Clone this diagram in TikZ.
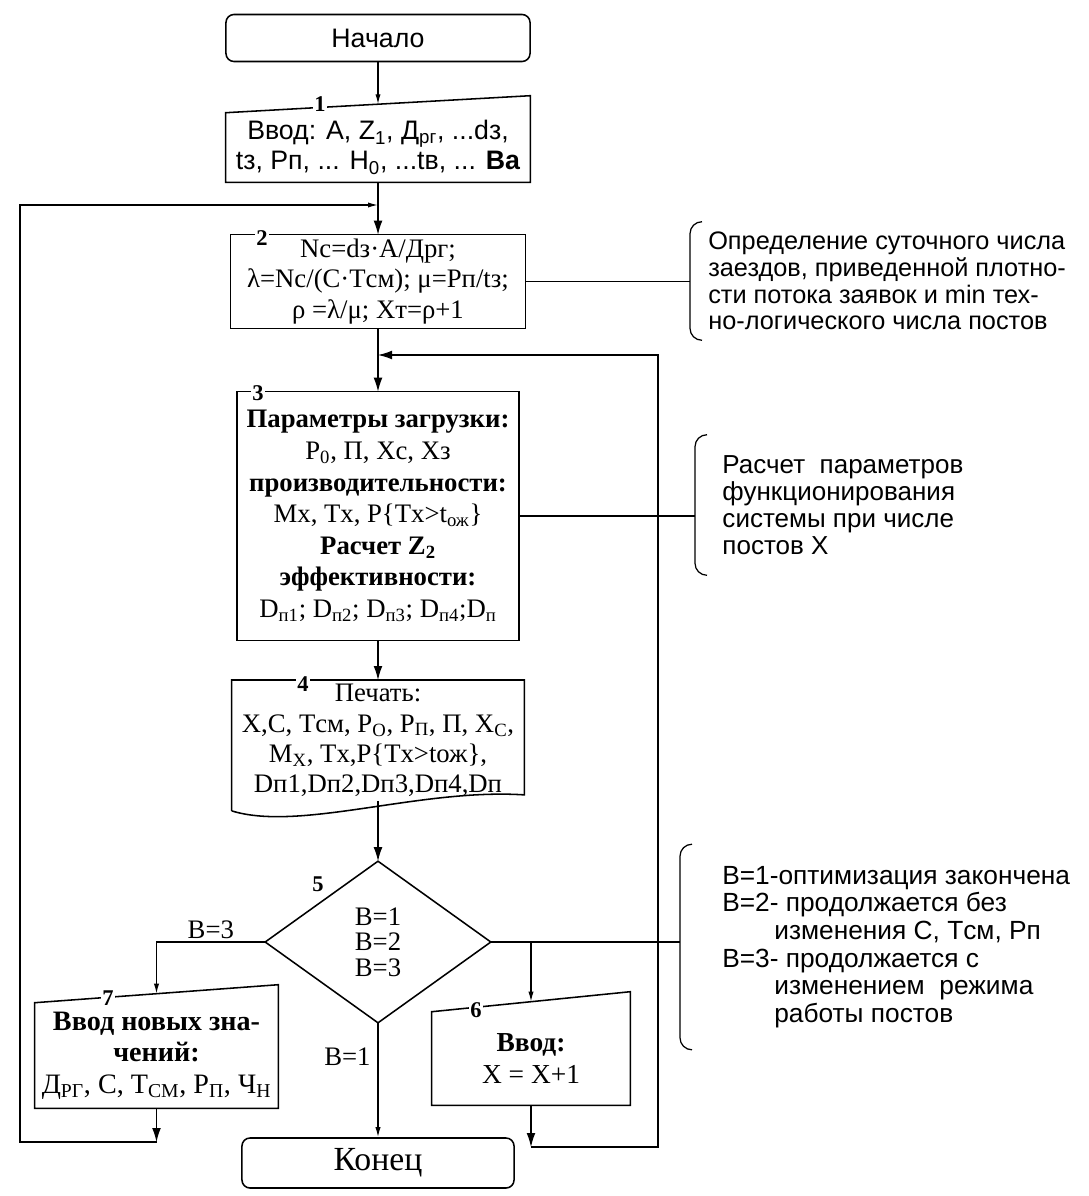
\documentclass[tikz,border=0pt]{standalone}
\usepackage{fontspec}
\setmainfont{Liberation Serif}
\setsansfont{Liberation Sans}
\usetikzlibrary{arrows.meta}

\begin{document}
\begin{tikzpicture}[x=0.025cm, y=-0.025cm]

\tikzset{box/.style = {shape=rectangle, inner sep=0pt, align=center, font=\fontsize{19}{21.5}\selectfont}}
\tikzset{term/.style = {box, draw, rounded corners=0.2cm, line width=1.1pt}}
\tikzset{num/.style = {fill=white, inner sep=1pt, font=\bfseries\fontsize{16}{16}\selectfont}}
\tikzset{note/.style = {align=left, anchor=west, inner ysep=0pt, font=\sffamily\fontsize{18}{19}\selectfont}}
\tikzset{lbl/.style = {inner sep=2pt, font=\fontsize{19}{19}\selectfont}}
\tikzset{outline/.style = {line width=1.1pt, line join=miter}}
\tikzset{edge/.style = {line width=0.9pt}}
\tikzset{arr/.style = {edge, -{Latex[length=0.35cm,width=0.22cm]}}}
\tikzset{arrs/.style = {edge, -{Latex[length=0.25cm,width=0.13cm]}}}

\useasboundingbox (0,0) rectangle (1088,1196);

%blocks
\node[term, minimum width=7.6cm, minimum height=1.175cm, font=\sffamily\fontsize{19}{21}\selectfont] (start) at (378,38) {Начало};
\node[box, minimum width=7.6cm, minimum height=1.725cm, font=\sffamily\fontsize{19}{21.5}\selectfont] (b1) at (378,147.5)
  {Ввод: A, Z\textsubscript{1}, Д\textsubscript{рг}, ...dз,\\ tз, Pп, ... H\textsubscript{0}, ...tв, ... \textbf{Ba}};
\node[box, minimum width=7.35cm, minimum height=2.325cm] (b2) at (378,281.5)
  {Nc=dз·A/Дрг;\\ λ=Nc/(C·Tсм); μ=Pп/tз;\\ ρ =λ/μ; Xт=ρ+1};
\node[box, minimum width=7.025cm, minimum height=6.2cm, font=\fontsize{19}{22.5}\selectfont] (b3) at (378,516)
  {\textbf{Параметры загрузки:}\\ P\textsubscript{0}, П, Xc, Xз\\ \textbf{производительности:}\\
   Mx, Tx, P\{Tx>t\textsubscript{ож}\}\\ \textbf{Расчет Z\textsubscript{2}}\\ \textbf{эффективности:}\\
   D\textsubscript{п1}; D\textsubscript{п2}; D\textsubscript{п3}; D\textsubscript{п4};D\textsubscript{п}};
\node[box, anchor=north, minimum width=7.3cm, inner ysep=0.1cm] (b4) at (378,680)
  {Печать:\\ X,C, Tсм, P\textsubscript{O}, P\textsubscript{П}, П, X\textsubscript{C},\\ M\textsubscript{X}, Tx,P\{Tx>tож\},\\ Dп1,Dп2,Dп3,Dп4,Dп};
\node[box, minimum width=5.625cm, minimum height=4.025cm, font=\fontsize{19}{18}\selectfont] (d5) at (378,942)
  {B=1\\ B=2\\ B=3};
\node[box, minimum width=6.075cm, minimum height=2.625cm, font=\fontsize{20}{22.5}\selectfont] (b7) at (156.5,1055.5)
  {\textbf{Ввод новых зна-}\\ \textbf{чений:}\\ Д\textsubscript{РГ}, C, T\textsubscript{СМ}, P\textsubscript{П}, Ч\textsubscript{Н}};
\node[box, minimum width=4.95cm, minimum height=2.325cm, font=\fontsize{19.5}{23}\selectfont] (b6) at (531,1058.5)
  {\textbf{Ввод:}\\ X = X+1};
\node[term, minimum width=6.8cm, minimum height=1.25cm, font=\fontsize{24}{26}\selectfont] (end) at (378,1163) {Конец};

%notes
\node[note, minimum height=2.95cm, inner xsep=0.45cm] (n1) at (690,281)
  {Определение суточного числа\\ заездов, приведенной плотно-\\ сти потока заявок и min тех-\\ но-логического числа постов};
\node[note, minimum height=3.5cm, inner xsep=0.68cm, font=\sffamily\fontsize{18.5}{19.3}\selectfont] (n2) at (695,505)
  {Расчет\ \ параметров\\ функционирования\\ системы при числе\\ постов X};
\node[note, minimum height=5.125cm, inner xsep=1.05cm, font=\sffamily\fontsize{18.7}{19.6}\selectfont] (n3) at (680,947)
  {B=1-оптимизация закончена\\ B=2- продолжается без\\ \hspace*{1.3cm}изменения C, Tсм, Pп\\
   B=3- продолжается с\\ \hspace*{1.3cm}изменением\ \ режима\\ \hspace*{1.3cm}работы постов};

%outlines
\draw[outline] (b1.south west) -- (b1.north west) -- ([yshift=0.425cm]b1.north east) -- (b1.south east) -- cycle;
\draw[outline] (b2.south west) rectangle (b2.north east);
\draw[outline] (b3.south west) rectangle (b3.north east);
\draw[outline] ([yshift=-0.25cm]b4.south west) -- (b4.north west) -- (b4.north east) -- ([yshift=0.15cm]b4.south east)
  .. controls (420,788) and (300,832) .. ([yshift=-0.25cm]b4.south west);
\draw[outline] (d5.north) -- (d5.east) -- (d5.south) -- (d5.west) -- cycle;
\draw[outline] (b7.south west) -- (b7.north west) -- ([yshift=0.45cm]b7.north east) -- (b7.south east) -- cycle;
\draw[outline] (b6.south west) -- (b6.north west) -- ([yshift=0.5cm]b6.north east) -- (b6.south east) -- cycle;
\foreach \n in {n1,n2,n3}
  \draw[edge] ([xshift=0.3cm]\n.north west) to[out=180,in=90] ([yshift=-0.3cm]\n.north west)
    -- ([yshift=0.3cm]\n.south west) to[out=-90,in=180] ([xshift=0.3cm]\n.south west);

%numbers
\node[num] (l1) at (320,104) {1};
\node[num] (l2) at (262,238) {2};
\node[num] (l3) at (258,393) {3};
\node[num] (l4) at (303,684) {4};
\node[num] (l5) at (318,884) {5};
\node[num] (l6) at (476,1010) {6};
\node[num] (l7) at (108,998) {7};

%edges
\coordinate (j1) at (378,205);
\coordinate (j2) at (378,355);
\coordinate (c7) at (20,1142);
\coordinate (c6) at (658,1147);
\coordinate (j3) at (d5.east -| b6.north);
\draw[arrs] (start) -- ([yshift=0.21cm]b1.north);
\draw[arr] (b1) -- (b2);
\draw[arr] (b2) -- (b3);
\draw[arr] (b3) -- (b4);
\draw[arr] (b4.south) -- (d5.north);
\draw[arrs] (d5) -- (end) node[pos=0.3, left=0.1cm, lbl] {B=1};
\draw[arrs] (d5.west) -| ([yshift=0.225cm]b7.north) node[pos=0.25, above, lbl] {B=3};
\draw[edge] (d5.east) -- (d5.east -| n3.west);
\draw[arrs] (j3) -- ([yshift=0.25cm]b6.north);
\draw[edge] (b2.east) -- (b2.east -| n1.west);
\draw[edge] (b3.east) -- (b3.east -| n2.west);
\draw[arr] (b7.south) -- (b7.south |- c7);
\draw[arrs] (b7.south |- c7) -| (c7 |- j1) -- (j1);
\draw[arr] (b6.south) -- (b6.south |- c6);
\draw[arr] (b6.south |- c6) -| (c6 |- j2) -- (j2);

\end{tikzpicture}
\end{document}
